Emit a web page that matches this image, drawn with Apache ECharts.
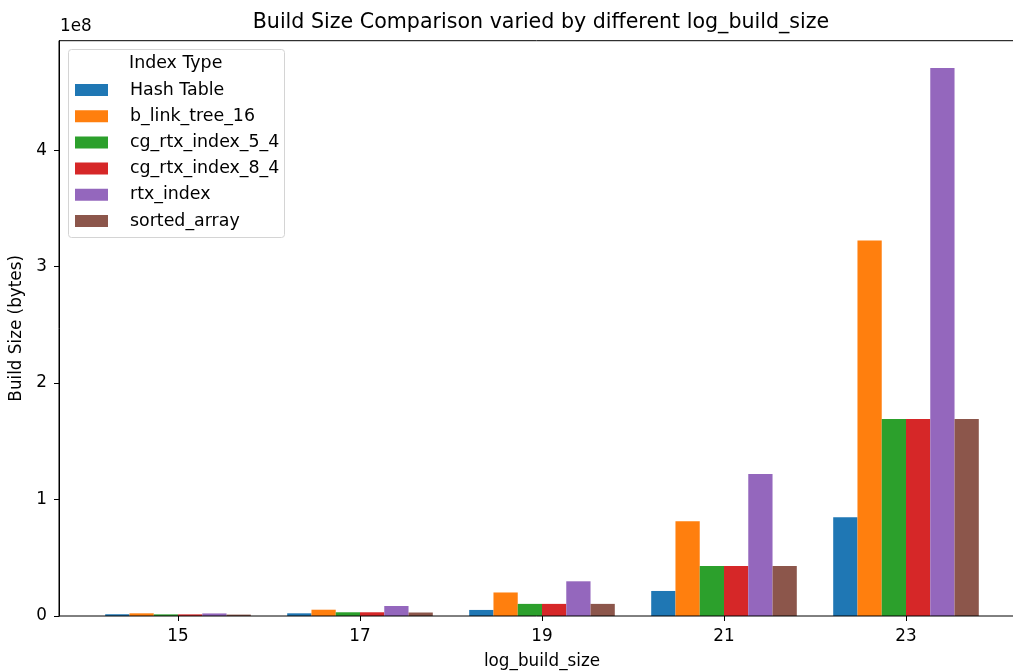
<!DOCTYPE html>
<html>
<head>
<meta charset="utf-8">
<script src="https://cdn.jsdelivr.net/npm/echarts@6/dist/echarts.min.js"></script>
<style>
  html, body { margin: 0; padding: 0; background: #fff; }
  #chart { width: 1013px; height: 671px; }
</style>
</head>
<body>
<div id="chart"></div>
<script>
// log2 of the number of keys the index was built over
const buildSizes = ['15', '17', '19', '21', '23'];

// Build size in bytes per index type
const hashTable      = [1.5e6, 2.3e6, 5.2e6, 21.5e6, 84.7e6];
const bLinkTree16    = [2.3e6, 5.4e6, 20.2e6, 81.3e6, 322.5e6];
const cgRtxIndex54   = [1.4e6, 3.2e6, 10.4e6, 42.9e6, 169.1e6];
const cgRtxIndex84   = [1.4e6, 3.2e6, 10.4e6, 42.9e6, 169.1e6];
const rtxIndex       = [2.2e6, 8.6e6, 29.8e6, 121.9e6, 470.5e6];
const sortedArray    = [1.2e6, 3.0e6, 10.4e6, 42.9e6, 169.1e6];

const seriesNames = ['Hash Table', 'b_link_tree_16', 'cg_rtx_index_5_4',
                     'cg_rtx_index_8_4', 'rtx_index', 'sorted_array'];
const seriesValues = [hashTable, bLinkTree16, cgRtxIndex54, cgRtxIndex84, rtxIndex, sortedArray];
const colors = ['#1f77b4', '#ff7f0e', '#2ca02c', '#d62728', '#9467bd', '#8c564b'];

// y ticks shown in units of 1e8
const yTicks = [0, 1e8, 2e8, 3e8, 4e8];
const yMax = 4.94e8;

const FONT = 'DejaVu Sans';
const LABEL_SIZE = 16.8;
const PLOT_TOP = 40.7;
const PLOT_BOTTOM = 55;

const chart = echarts.init(document.getElementById('chart'), null, { renderer: 'canvas' });

const option = {
  animation: false,
  backgroundColor: '#fff',
  textStyle: { fontFamily: FONT, color: '#000' },
  title: {
    text: 'Build Size Comparison varied by different log_build_size',
    left: 536, top: 7, textAlign: 'center',
    textStyle: { fontFamily: FONT, fontSize: 20.6, fontWeight: 'normal', color: '#000' }
  },
  grid: [
    // data grid: one category band per build size
    { left: 87, right: 16, top: PLOT_TOP, bottom: PLOT_BOTTOM,
      containLabel: false, outerBoundsMode: 'none' },
    // outer frame of the axes
    { left: 59, right: -11, top: PLOT_TOP, bottom: PLOT_BOTTOM, show: true,
      outerBoundsMode: 'none',
      borderColor: '#000', borderWidth: 1, backgroundColor: 'transparent', z: 3 }
  ],
  xAxis: [
    {
      gridIndex: 0, type: 'category', data: buildSizes,
      name: 'log_build_size', nameLocation: 'middle', nameGap: 37,
      nameTextStyle: { fontFamily: FONT, fontSize: LABEL_SIZE, color: '#000' },
      axisLine: { show: false },
      axisTick: { show: true, alignWithLabel: true, length: 5, lineStyle: { color: '#000', width: 1 } },
      axisLabel: { margin: 12, fontFamily: FONT, fontSize: LABEL_SIZE, color: '#000' },
      splitLine: { show: false }
    },
    { gridIndex: 1, type: 'value', min: 0, max: 1, show: false }
  ],
  yAxis: [
    {
      gridIndex: 0, type: 'value', min: 0, max: yMax, offset: 28,
      name: 'Build Size (bytes)', nameLocation: 'middle', nameGap: 32,
      nameTextStyle: { fontFamily: FONT, fontSize: LABEL_SIZE, color: '#000' },
      axisLine: { show: true, lineStyle: { color: '#000', width: 1 } },
      axisTick: { show: true, length: 5, customValues: yTicks, lineStyle: { color: '#000', width: 1 } },
      axisLabel: {
        margin: 12, fontFamily: FONT, fontSize: LABEL_SIZE, color: '#000',
        customValues: yTicks,
        formatter: v => String(Math.round(v / 1e8))
      },
      splitLine: { show: false }
    },
    { gridIndex: 1, type: 'value', min: 0, max: 1, show: false }
  ],
  legend: {
    orient: 'vertical', left: 75, top: 81.5, padding: 0,
    itemWidth: 33, itemHeight: 12, itemGap: 9.2,
    icon: 'rect', z: 5,
    textStyle: { fontFamily: FONT, fontSize: 17.4, color: '#000', padding: [0, 0, 0, 17] },
    data: seriesNames
  },
  graphic: [
    {
      type: 'rect', z: 4, silent: true,
      shape: { x: 68.5, y: 49.5, width: 216, height: 188, r: 3 },
      style: { fill: 'rgba(255,255,255,0.8)', stroke: '#d4d4d4', lineWidth: 1 }
    },
    {
      type: 'text', z: 6, silent: true, left: 129, top: 55,
      style: { text: 'Index Type', font: '17.4px "' + FONT + '"', fill: '#000' }
    },
    {
      type: 'text', z: 6, silent: true, left: 60, top: 18,
      style: { text: '1e8', font: LABEL_SIZE + 'px "' + FONT + '"', fill: '#000' }
    }
  ],
  series: seriesNames.map((name, i) => ({
    name,
    type: 'bar',
    xAxisIndex: 0, yAxisIndex: 0,
    data: seriesValues[i],
    barGap: '0%',
    barCategoryGap: '20%',
    itemStyle: { color: colors[i] }
  }))
};

chart.setOption(option);
</script>
</body>
</html>
